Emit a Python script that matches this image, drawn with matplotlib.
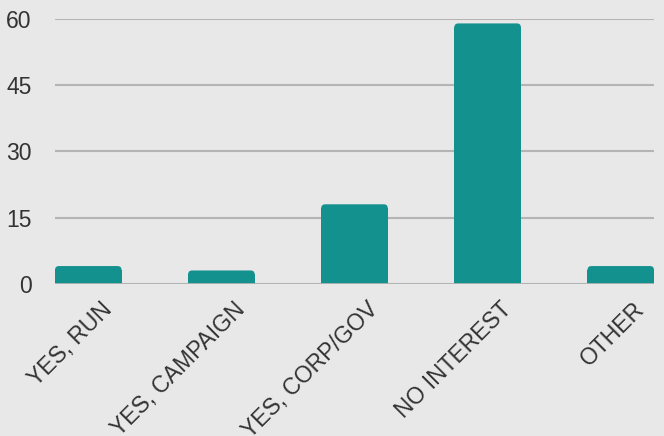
import matplotlib.pyplot as plt
import matplotlib.transforms as mtransforms
from matplotlib.patches import FancyBboxPatch

# data
categories = ['YES, RUN', 'YES, CAMPAIGN', 'YES, CORP/GOV', 'NO INTEREST', 'OTHER']
values = [4, 3, 18, 59, 4]
yticks = [0, 15, 30, 45, 60]

bar_color = '#13918e'
bg_color = '#e8e8e8'
grid_color = '#b4b4b4'
text_color = '#333333'

plt.rcParams['font.family'] = ['Liberation Sans', 'DejaVu Sans']

fig = plt.figure(figsize=(6.64, 4.36), dpi=100, facecolor=bg_color)
ax = fig.add_axes([55 / 664, 1 - 283.7 / 436, 599 / 664, (283.7 - 19) / 436])
ax.set_facecolor(bg_color)

x = list(range(len(categories)))
bars = ax.bar(x, values, width=0.5, color=bar_color, zorder=3)

# rounded top corners: shorten each bar and lay a rounded box on top
ry = 0.9     # corner radius in data units (y)
rx = 0.03    # corner radius in data units (x)
for b in bars:
    h = b.get_height()
    b.set_height(h - ry)
    ax.add_patch(FancyBboxPatch((b.get_x(), 0), b.get_width(), h,
                                boxstyle=f'round,pad=0,rounding_size={rx}',
                                mutation_aspect=ry / rx,
                                facecolor=bar_color, edgecolor='none', zorder=3))

ax.set_xlim(-0.25, len(categories) - 0.75)
ax.set_ylim(0, 60)

ax.set_yticks(yticks)
ax.set_yticklabels([str(v) for v in yticks], fontsize=16.5, color=text_color)
ax.grid(axis='y', color=grid_color, linewidth=1.5, zorder=1)
ax.axhline(0, color=grid_color, linewidth=2, zorder=4)

ax.set_xticks(x)
ax.set_xticklabels(categories, fontsize=16.5, color=text_color, rotation=45,
                   ha='right', va='center', rotation_mode='anchor')
ax.tick_params(axis='x', length=0, pad=16)
ax.tick_params(axis='y', length=0, pad=17)

offset = mtransforms.ScaledTranslation(0.20, 0, fig.dpi_scale_trans)
for lbl in ax.get_xticklabels():
    lbl.set_transform(lbl.get_transform() + offset)

for s in ax.spines.values():
    s.set_visible(False)

fig.savefig('out.png', dpi=100, facecolor=bg_color)
